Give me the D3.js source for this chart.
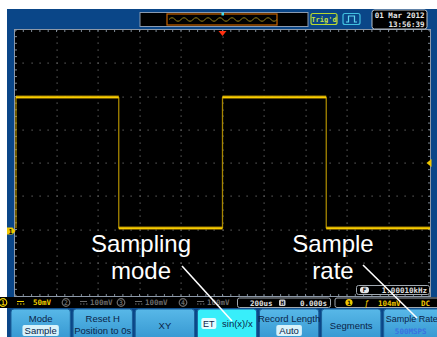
<!DOCTYPE html>
<html>
<head>
<meta charset="utf-8">
<script src="https://cdn.jsdelivr.net/npm/d3@7"></script>
<style>
  body { margin: 0; background: #fff; }
  svg { display: block; }
  text { font-family: "Liberation Sans", Arial, sans-serif; }
  .mono { font-family: "DejaVu Sans Mono", monospace; font-weight: bold; }
</style>
</head>
<body>
<svg id="scope" width="437" height="337"></svg>
<script>
// ---- data ----
// trace: time (us) vs voltage (mV), 200us/div, 50mV/div, trigger at 0
var traceTime = [-1000, -500, -500, 0, 0, 500, 500, 1000];
var traceMv   = [199, 199, 2, 2, 199, 199, 2, 2];
var edgeTime  = [-1000, -500, 0, 500];
var highMv = 199, lowMv = 2;
var trigLevelMv = 100;

var channels = [
    { id: "1", scale: "50mV",  active: true },
    { id: "2", scale: "100mV", active: false },
    { id: "3", scale: "100mV", active: false },
    { id: "4", scale: "100mV", active: false }
];
var timebase = "200us", hPos = "0.000s";
var trigInfo = { src: "1", level: "104mV", coupling: "DC" };
var freqText = "1.00010kHz";
var dateLines = ["01 Mar 2012", "13:56:39"];

var menuButtons = [
    { top: "Mode", sub: "Sample", kind: "box" },
    { top: "Reset H", sub: "Position to 0s", kind: "text" },
    { top: "XY", kind: "single" },
    { top: "sin(x)/x", tag: "ET", kind: "active" },
    { top: "Record Length", sub: "Auto", kind: "box" },
    { top: "Segments", kind: "single" },
    { top: "Sample Rate", sub: "500MSPS", kind: "blue" }
];

var callouts = [
    { lines: ["Sampling", "mode"], cx: 141, from: [182, 266], to: [232, 321] },
    { lines: ["Sample", "rate"], cx: 333, from: [363, 265], to: [417, 318] }
];

// ---- layout ----
var svg = d3.select("#scope");
var grid = { left: 15, right: 430, top: 30, bottom: 296 };

var x = d3.scaleLinear().domain([-1000, 1000]).range([grid.left, grid.right]);
var y = d3.scaleLinear().domain([-100, 300]).range([grid.bottom, grid.top]);

// screen background
svg.append("rect").attr("x", 7).attr("y", 9).attr("width", 430).attr("height", 328).attr("fill", "#0a4688");
svg.append("rect").attr("x", grid.left).attr("y", grid.top)
    .attr("width", grid.right - grid.left).attr("height", grid.bottom - grid.top)
    .attr("fill", "#000");

// grid dots
var majorT = d3.range(-800, 1000, 200);
var majorV = d3.range(-50, 300, 50);
var minorT = d3.range(-1000, 1001, 40);
var minorV = d3.range(-100, 301, 10);
var dots = [];
majorT.forEach(function (t) { minorV.forEach(function (v) { dots.push([x(t), y(v)]); }); });
majorV.forEach(function (v) { minorT.forEach(function (t) { dots.push([x(t), y(v)]); }); });
svg.append("g").selectAll("rect").data(dots).enter().append("rect")
    .attr("x", function (d) { return Math.round(d[0]) - 0.5; })
    .attr("y", function (d) { return Math.round(d[1]) - 0.5; })
    .attr("width", 1.2).attr("height", 1.2)
    .attr("fill", "#666");

// border ticks
var ticks = svg.append("g").attr("stroke", "#7f8a96").attr("stroke-width", 1);
minorT.forEach(function (t) {
    ticks.append("line").attr("x1", x(t)).attr("x2", x(t)).attr("y1", grid.top).attr("y2", grid.top + 2);
    ticks.append("line").attr("x1", x(t)).attr("x2", x(t)).attr("y1", grid.bottom - 2).attr("y2", grid.bottom);
});
minorV.forEach(function (v) {
    ticks.append("line").attr("y1", y(v)).attr("y2", y(v)).attr("x1", grid.left).attr("x2", grid.left + 2);
    ticks.append("line").attr("y1", y(v)).attr("y2", y(v)).attr("x1", grid.right - 2).attr("x2", grid.right);
});
svg.append("rect").attr("x", grid.left - 0.5).attr("y", grid.top - 0.5)
    .attr("width", grid.right - grid.left + 1).attr("height", grid.bottom - grid.top + 1)
    .attr("fill", "none").attr("stroke", "#8c98a8").attr("stroke-width", 1);

// waveform: dim edges, bright levels
var edges = svg.append("g").attr("stroke", "#b89400").attr("stroke-width", 1.3).attr("opacity", 0.9);
edgeTime.forEach(function (t) {
    var xx = Math.max(x(t), grid.left + 1);
    edges.append("line").attr("x1", xx).attr("x2", xx).attr("y1", y(highMv)).attr("y2", y(lowMv));
});
var pts = traceTime.map(function (t, i) { return [t, traceMv[i]]; });
var segs = [];
for (var i = 0; i < pts.length - 1; i++) {
    if (pts[i][1] === pts[i + 1][1]) segs.push([pts[i], pts[i + 1]]);
}
var line = d3.line().x(function (d) { return Math.max(x(d[0]), grid.left + 1); }).y(function (d) { return y(d[1]); });
svg.append("g").selectAll("path.halo").data(segs).enter().append("path")
    .attr("d", line).attr("fill", "none").attr("stroke", "#d8a800").attr("stroke-width", 3.6).attr("opacity", 0.5);
svg.append("g").selectAll("path.tr").data(segs).enter().append("path")
    .attr("d", line).attr("fill", "none").attr("stroke", "#f8cc00").attr("stroke-width", 1.8);

// ch1 ground marker (left) and trigger level marker (right)
var g1 = svg.append("g").attr("transform", "translate(11," + (y(0) + 1.5) + ")");
g1.append("path").attr("d", "M-4,-3.5 H1.5 L4.5,0 L1.5,3.5 H-4 Z").attr("fill", "#f0c800");
g1.append("text").attr("x", -0.5).attr("y", 2.5).attr("text-anchor", "middle")
    .attr("font-size", 6.5).attr("font-weight", "bold").attr("fill", "#000").text("1");
svg.append("path").attr("transform", "translate(" + (grid.right - 0.5) + "," + y(trigLevelMv) + ")")
    .attr("d", "M-3,0 L2,-4 L2,4 Z").attr("fill", "#f0c800");

// trigger position marker (top)
svg.append("path").attr("transform", "translate(" + x(0) + "," + (grid.top + 1) + ")")
    .attr("d", "M-4,0 H4 L0,5 Z").attr("fill", "#ff3010");

// memory bar
svg.append("rect").attr("x", 140).attr("y", 12.5).attr("width", 168).attr("height", 14)
    .attr("fill", "#000").attr("stroke", "#8a9ab0").attr("stroke-width", 1);
svg.append("rect").attr("x", 167).attr("y", 14).attr("width", 110).attr("height", 11)
    .attr("fill", "none").attr("stroke", "#c86400").attr("stroke-width", 1.2);
var wig = "M169,19.5";
for (var k = 0; k < 9; k++) {
    var x0 = 169 + k * 12;
    wig += " Q" + (x0 + 3) + ",16 " + (x0 + 6) + ",19.5 Q" + (x0 + 9) + ",23 " + (x0 + 12) + ",19.5";
}
svg.append("path").attr("d", wig).attr("fill", "none").attr("stroke", "#9a8418").attr("stroke-width", 1);
svg.append("rect").attr("x", x(0) - 1).attr("y", 12.5).attr("width", 2.5).attr("height", 3).attr("fill", "#40e0f0");

// Trig'd and trigger type icon
svg.append("rect").attr("x", 311).attr("y", 13.5).attr("width", 26).attr("height", 11).attr("rx", 2)
    .attr("fill", "none").attr("stroke", "#b8d830").attr("stroke-width", 1.2);
svg.append("text").attr("x", 324).attr("y", 21.8).attr("text-anchor", "middle")
    .attr("class", "mono").attr("font-size", 7).attr("fill", "#c8e040").text("Trig'd");
svg.append("rect").attr("x", 343).attr("y", 13.5).attr("width", 17).attr("height", 11).attr("rx", 2)
    .attr("fill", "none").attr("stroke", "#40c0e0").attr("stroke-width", 1.2);
svg.append("path").attr("d", "M346,22 H348.5 V16 H354.5 V22 H357").attr("fill", "none")
    .attr("stroke", "#60d8f0").attr("stroke-width", 1.2);

// date box
svg.append("rect").attr("x", 372).attr("y", 10).attr("width", 55).attr("height", 19).attr("rx", 2.5)
    .attr("fill", "#000").attr("stroke", "#b8c0c8").attr("stroke-width", 1);
svg.append("g").selectAll("text").data(dateLines).enter().append("text")
    .attr("class", "mono").attr("x", 424.5).attr("y", function (d, i) { return 18 + i * 8.5; })
    .attr("text-anchor", "end").attr("font-size", 7.5).attr("fill", "#e8e8e8").text(function (d) { return d; });

// status row
svg.append("rect").attr("x", 0).attr("y", 297).attr("width", 437).attr("height", 11).attr("fill", "#000");
var chX = [3, 66, 121, 183];
channels.forEach(function (c, i) {
    var col = c.active ? "#f0d000" : "#6a6a6a";
    var g = svg.append("g").attr("transform", "translate(" + chX[i] + ",302.5)");
    g.append("circle").attr("r", 3.8).attr("fill", "none").attr("stroke", col).attr("stroke-width", 1.2);
    g.append("text").attr("class", "mono").attr("y", 2.5).attr("text-anchor", "middle").attr("font-size", 6.5)
        .attr("fill", col).text(c.id);
    g.append("path").attr("d", "M14,-1 H21 M14,1.5 H15.5 M17,1.5 H18.5 M20,1.5 H21.5").attr("stroke", col).attr("stroke-width", 1);
    g.append("text").attr("class", "mono").attr("x", c.active ? 30 : 24).attr("y", 2.8).attr("font-size", 7.5)
        .attr("fill", col).text(c.scale);
});

// timebase box
svg.append("rect").attr("x", 237.5).attr("y", 298).attr("width", 93).attr("height", 9.5).attr("rx", 2)
    .attr("fill", "#000").attr("stroke", "#a0a8b0").attr("stroke-width", 1);
svg.append("text").attr("class", "mono").attr("x", 250).attr("y", 305.5).attr("font-size", 7.5).attr("fill", "#e0e0e0").text(timebase);
svg.append("rect").attr("x", 279).attr("y", 299.5).attr("width", 6.5).attr("height", 6.5).attr("rx", 1.5).attr("fill", "#d0d0d0");
svg.append("text").attr("class", "mono").attr("x", 282.3).attr("y", 305).attr("text-anchor", "middle").attr("font-size", 6).attr("fill", "#000").text("H");
svg.append("text").attr("class", "mono").attr("x", 327).attr("y", 305.5).attr("text-anchor", "end").attr("font-size", 7.5).attr("fill", "#e0e0e0").text(hPos);

// trigger box
svg.append("rect").attr("x", 335).attr("y", 298).attr("width", 104).attr("height", 9.5).attr("rx", 2)
    .attr("fill", "#000").attr("stroke", "#a0a8b0").attr("stroke-width", 1);
svg.append("circle").attr("cx", 349).attr("cy", 302.5).attr("r", 3.6).attr("fill", "#f0c800");
svg.append("text").attr("class", "mono").attr("x", 349).attr("y", 305).attr("text-anchor", "middle").attr("font-size", 6).attr("fill", "#000").text(trigInfo.src);
svg.append("text").attr("x", 364).attr("y", 306).attr("font-size", 9).attr("font-style", "italic").attr("fill", "#f0c800").text("ƒ");
svg.append("text").attr("class", "mono").attr("x", 378).attr("y", 305.5).attr("font-size", 7.5).attr("fill", "#f0c800").text(trigInfo.level);
svg.append("text").attr("class", "mono").attr("x", 430).attr("y", 305.5).attr("text-anchor", "end").attr("font-size", 7.5).attr("fill", "#f0c800").text(trigInfo.coupling);

// frequency counter box
svg.append("rect").attr("x", 356.5).attr("y", 285.5).attr("width", 73).attr("height", 9).attr("rx", 2)
    .attr("fill", "#000").attr("stroke", "#a0a8b0").attr("stroke-width", 1);
svg.append("rect").attr("x", 360).attr("y", 286.8).attr("width", 9).attr("height", 6.5).attr("rx", 3).attr("fill", "#e8e8e8");
svg.append("text").attr("class", "mono").attr("x", 364.5).attr("y", 292.3).attr("text-anchor", "middle").attr("font-size", 6).attr("fill", "#000").text("F");
svg.append("text").attr("class", "mono").attr("x", 427).attr("y", 292.8).attr("text-anchor", "end").attr("font-size", 7.5).attr("fill", "#e0e0e0").text(freqText);

// menu buttons
var defs = svg.append("defs");
var grad = defs.append("linearGradient").attr("id", "btn").attr("x1", 0).attr("x2", 0).attr("y1", 0).attr("y2", 1);
grad.append("stop").attr("offset", 0).attr("stop-color", "#58b8e8");
grad.append("stop").attr("offset", 1).attr("stop-color", "#3496d0");
var bx = d3.scaleBand().domain(d3.range(menuButtons.length)).range([11, 443]).paddingInner(0.045);
var btn = svg.append("g").selectAll("g").data(menuButtons).enter().append("g")
    .attr("transform", function (d, i) { return "translate(" + bx(i) + ",309)"; });
btn.append("rect").attr("width", bx.bandwidth()).attr("height", 32).attr("rx", 3)
    .attr("fill", function (d) { return d.kind === "active" ? "#38eefa" : "url(#btn)"; })
    .attr("stroke", "#1c5f98").attr("stroke-width", 1);
var bw = bx.bandwidth();
btn.each(function (d) {
    var g = d3.select(this);
    var col = "#0a2448";
    if (d.kind === "single") {
        g.append("text").attr("x", bw / 2).attr("y", 19.5).attr("text-anchor", "middle").attr("font-size", 9.5).attr("fill", col).text(d.top);
    } else if (d.kind === "active") {
        g.append("rect").attr("x", 4).attr("y", 9).attr("width", 15).attr("height", 11).attr("rx", 2).attr("fill", "#e6fbff");
        g.append("text").attr("x", 11.5).attr("y", 18.3).attr("text-anchor", "middle").attr("font-size", 9).attr("fill", col).text(d.tag);
        g.append("text").attr("x", 40).attr("y", 18.3).attr("text-anchor", "middle").attr("font-size", 9.5).attr("fill", col).text(d.top);
    } else {
        var isLast = d.kind === "blue";
        g.append("text").attr("x", isLast ? 2 : bw / 2).attr("y", 12.5).attr("text-anchor", isLast ? "start" : "middle")
            .attr("font-size", isLast ? 9 : 9.5).attr("fill", col).text(d.top);
        if (d.kind === "box") {
            var tw = d.sub.length * 5.4 + 4;
            g.append("rect").attr("x", bw / 2 - tw / 2).attr("y", 16).attr("width", tw).attr("height", 11).attr("rx", 2).attr("fill", "#d8f2fa");
            g.append("text").attr("x", bw / 2).attr("y", 25).attr("text-anchor", "middle").attr("font-size", 9.5).attr("fill", col).text(d.sub);
        } else if (isLast) {
            g.append("text").attr("class", "mono").attr("x", 27).attr("y", 25).attr("text-anchor", "middle").attr("font-size", 7.5).attr("fill", "#3a70e0").text(d.sub);
        } else {
            g.append("text").attr("x", bw / 2).attr("y", 25).attr("text-anchor", "middle").attr("font-size", 9.5).attr("fill", col).text(d.sub);
        }
    }
});

// callouts
callouts.forEach(function (c) {
    svg.append("line").attr("x1", c.from[0]).attr("y1", c.from[1]).attr("x2", c.to[0]).attr("y2", c.to[1])
        .attr("stroke", "#fff").attr("stroke-width", 1.6);
    c.lines.forEach(function (t, i) {
        svg.append("text").attr("x", c.cx).attr("y", 252 + i * 27).attr("text-anchor", "middle")
            .attr("font-size", 24).attr("fill", "#fff").text(t);
    });
});
</script>
</body>
</html>
